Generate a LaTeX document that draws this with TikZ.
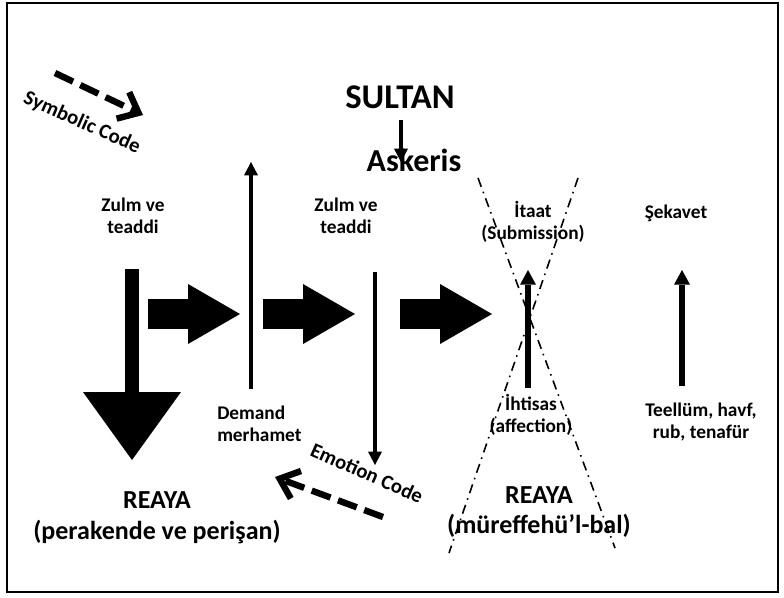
\documentclass[tikz,border=0pt]{standalone}
\usepackage{fontspec}
\setmainfont{Carlito}
\usetikzlibrary{arrows.meta}

\begin{document}
\begin{tikzpicture}[x=0.75pt,y=-0.75pt,
  lbl/.style={font=\bfseries\fontsize{14.5}{16.5}\selectfont,align=center,inner sep=0pt},
  big/.style={font=\bfseries\fontsize{19.5}{23}\selectfont,align=center,inner sep=0pt},
  codelbl/.style={font=\bfseries\fontsize{15.5}{18}\selectfont,inner sep=0pt,rotate=-24},
  thinarr/.style={line width=3.2pt,-{Triangle[length=10pt,width=10.5pt,line width=0pt]}},
  fatarr/.style={line width=4.5pt,-{Triangle[length=11pt,width=12pt,line width=0pt]}},
  blockarr/.style={line width=22.5pt,-{Triangle[length=39pt,width=45pt,line width=0pt]}},
  codearr/.style={line width=4.8pt,dash pattern=on 15pt off 6pt,-{Straight Barb[length=13pt,width=22pt]}},
  crossline/.style={line width=1.2pt,dash pattern=on 7pt off 4pt on 1.2pt off 4pt}]
\useasboundingbox (0,0) rectangle (784,597);
\draw[line width=1.5pt] (7,3) rectangle (778,592);

% labels
\node[font=\bfseries\fontsize{26}{30}\selectfont,inner sep=0pt,anchor=base] (sultan) at (400,108) {SULTAN};
\node[font=\bfseries\fontsize{24}{28}\selectfont,inner sep=0pt,anchor=base] (askeris) at (414,171) {Askeris};
\node[lbl] (zulmA) at (133,216) {Zulm ve\\teaddi};
\node[lbl] (zulmB) at (346,216) {Zulm ve\\teaddi};
\node[lbl,align=left,anchor=west] (demand) at (217,424) {Demand\\merhamet};
\node[lbl] (itaat) at (533,222) {İtaat\\(Submission)};
\node[lbl,anchor=base] (sekavet) at (676,218) {Şekavet};
\node[lbl] (ihtisas) at (531,415) {İhtisas\\(affection)};
\node[lbl] (teellum) at (701,422) {Teellüm, havf,\\rub, tenafür};
\node[big] (reayaA) at (157,518) {REAYA\\(perakende ve perişan)};
\node[big] (reayaB) at (539,512) {REAYA\\(müreffehü’l-bal)};
\node[codelbl] (symcode) at (82,123) {Symbolic Code};
\node[codelbl] (emocode) at (367,473) {Emotion Code};

% arrow ends
\coordinate (s1) at (401,120);  \coordinate (s2) at (401,162);
\coordinate (d1) at (251,389);  \coordinate (d2) at (251,162);
\coordinate (z1) at (375,272);  \coordinate (z2) at (375,465);
\coordinate (i1) at (528,388);  \coordinate (i2) at (528,270);
\coordinate (t1) at (682,386);  \coordinate (t2) at (682,270);
\coordinate (c1) at (55,73);    \coordinate (c2) at (143,115);
\coordinate (e1) at (383,517);  \coordinate (e2) at (275,477);
\coordinate (k1) at (132,269);  \coordinate (k2) at (132,460);

\draw[thinarr] (s1) -- (s2);
\draw[thinarr,line width=3pt] (d1) -- (d2);
\draw[thinarr,line width=3.6pt] (z1) -- (z2);
\draw[fatarr] (i1) -- (i2);
\draw[fatarr] (t1) -- (t2);
\draw[codearr] (c1) -- (c2);
\draw[codearr] (e1) -- (e2);
\draw[line width=10.5pt,-{Triangle[length=51pt,width=73.5pt,line width=0pt]}] (k1) -- (k2);

\foreach \i/\xs in {1/148,2/263,3/400}{
  \coordinate (b\i) at (\xs,314);
  \coordinate (f\i) at (\xs+92,314);
  \draw[blockarr] (b\i) -- (f\i);
}

% the cross
\coordinate (xa1) at (478,178); \coordinate (xa2) at (615,548);
\coordinate (xb1) at (578,178); \coordinate (xb2) at (449,553);
\draw[crossline] (xa1) -- (xa2);
\draw[crossline] (xb1) -- (xb2);
\end{tikzpicture}
\end{document}
